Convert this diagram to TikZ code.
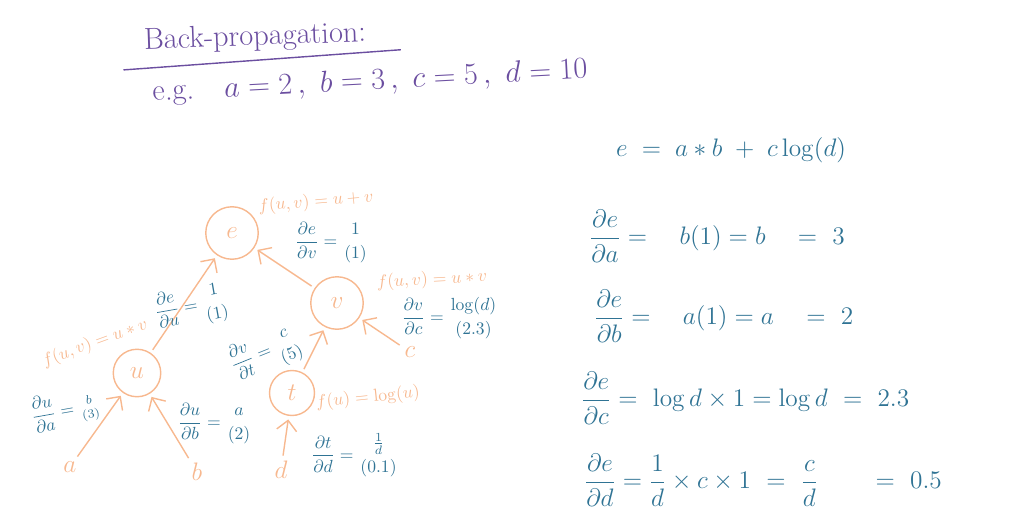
\documentclass[tikz,border=0pt]{standalone}
\usepackage{amsmath}
\usetikzlibrary{positioning, arrows.meta, calc}
\definecolor{peach}{HTML}{F7B88F}
\definecolor{quill}{HTML}{2F7394}
\definecolor{plum}{HTML}{6B4EA0}
\begin{document}
\begin{tikzpicture}[x=0.02cm, y=-0.02cm,
  op/.style={draw=peach, circle, thick, minimum size=1.05cm, text=peach, font=\Large},
  leaf/.style={text=peach, font=\Large, inner sep=1pt},
  fn/.style={text=peach, font=\normalsize, inner sep=1pt},
  grad/.style={text=quill, font=\normalsize, inner sep=1pt},
  eqn/.style={text=quill, font=\Large, anchor=west},
  arr/.style={-{Straight Barb[length=2mm]}, thick, peach, shorten >=2pt, shorten <=2pt}
]
  \useasboundingbox (0,0) rectangle (1024,530);

  % heading
  \node[text=plum, font=\LARGE, rotate=2] (title) at (255,38) {Back-propagation:};
  \draw[plum, thick] ($(title.south west)+(-15,8)$) -- ($(title.south east)+(28,-4)$);
  \node[text=plum, font=\LARGE, rotate=3] (given) at (370,82)
    {e.g.\quad $a=2\,,\ b=3\,,\ c=5\,,\ d=10$};

  % graph
  \node[op] (e) at (232,233) {$e$};
  \node[op] (v) at (337,303) {$v$};
  \node[op, minimum size=0.95cm] (u) at (137,373) {$u$};
  \node[op, minimum size=0.9cm] (t) at (292,393) {$t$};
  \node[leaf] (a) at (70,467) {$a$};
  \node[leaf] (b) at (197,472) {$b$};
  \node[leaf] (d) at (281,470) {$d$};
  \node[leaf] (c) at (410,352) {$c$};

  \draw[arr] (a) -- (u);
  \draw[arr] (b) -- (u);
  \draw[arr] (d) -- (t);
  \draw[arr] (u) -- (e);
  \draw[arr] (v) -- (e);
  \draw[arr] (t) -- (v);
  \draw[arr] (c) -- (v);

  % local functions
  \node[fn, rotate=5] (fe) at (316,202) {$f(u,v)=u+v$};
  \node[fn, rotate=3] (fv) at (432,280) {$f(u,v)=u*v$};
  \node[fn, rotate=20] (fu) at (95,343) {$f(u,v)=u*v$};
  \node[fn, rotate=6] (ft) at (368,398) {$f(u)=\log(u)$};

  % local gradients
  \node[grad] (gev) at (332,243) {$\dfrac{\partial e}{\partial v}=\genfrac{}{}{0pt}{0}{1}{(1)}$};
  \node[grad, rotate=10] (geu) at (192,307) {$\dfrac{\partial e}{\partial u}=\genfrac{}{}{0pt}{0}{1}{(1)}$};
  \node[grad, rotate=22] (gvt) at (266,353) {$\dfrac{\partial v}{\partial t}=\genfrac{}{}{0pt}{0}{c}{(5)}$};
  \node[grad] (gvc) at (450,318) {$\dfrac{\partial v}{\partial c}=\genfrac{}{}{0pt}{0}{\log(d)}{(2.3)}$};
  \node[grad, rotate=10] (gua) at (66,410) {$\dfrac{\partial u}{\partial a}=\genfrac{}{}{0pt}{1}{b}{(3)}$};
  \node[grad] (gub) at (215,424) {$\dfrac{\partial u}{\partial b}=\genfrac{}{}{0pt}{0}{a}{(2)}$};
  \node[grad] (gtd) at (355,455) {$\dfrac{\partial t}{\partial d}=\genfrac{}{}{0pt}{0}{\frac{1}{d}}{(0.1)}$};

  % chain rule
  \node[eqn] (full) at (610,150) {$e\;=\;a*b\;+\;c\log(d)$};
  \node[eqn] (dea) at (583,236) {$\dfrac{\partial e}{\partial a}=\quad b(1)=b\quad=\ 3$};
  \node[eqn] (deb) at (588,316) {$\dfrac{\partial e}{\partial b}=\quad a(1)=a\quad=\ 2$};
  \node[eqn] (dec) at (575,398) {$\dfrac{\partial e}{\partial c}=\ \log d\times 1=\log d\ =\ 2.3$};
  \node[eqn] (ded) at (578,480) {$\dfrac{\partial e}{\partial d}=\dfrac{1}{d}\times c\times 1\ =\ \dfrac{c}{d}\qquad=\ 0.5$};
\end{tikzpicture}
\end{document}
